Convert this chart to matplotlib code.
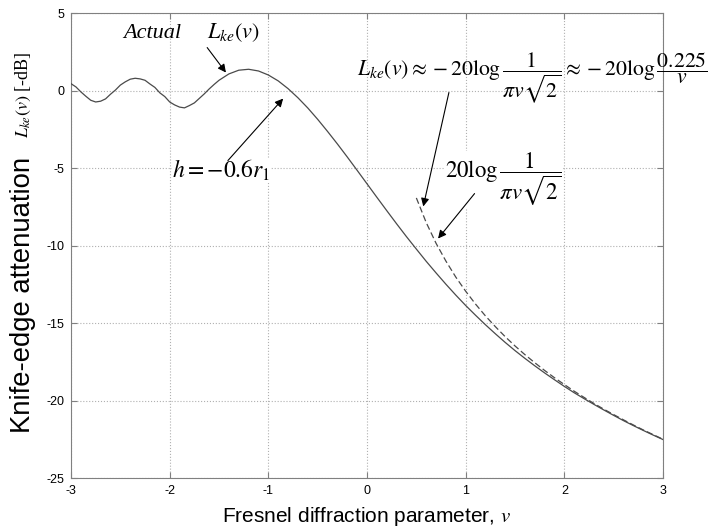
import matplotlib
matplotlib.use("Agg")
import matplotlib.pyplot as plt

plt.rcParams['mathtext.fontset'] = 'stix'
plt.rcParams['font.family'] = ['Liberation Sans', 'DejaVu Sans']
plt.rcParams['axes.unicode_minus'] = False

# Fresnel parameter v and knife-edge gain in dB
v_actual = [-3.00, -2.95, -2.90, -2.85, -2.80, -2.75, -2.70, -2.65, -2.60, -2.55,
            -2.50, -2.45, -2.40, -2.35, -2.30, -2.25, -2.20, -2.15, -2.10, -2.05,
            -2.00, -1.95, -1.90, -1.85, -1.80, -1.75, -1.70, -1.65, -1.60, -1.55,
            -1.50, -1.40, -1.30, -1.20, -1.10, -1.00, -0.90, -0.80, -0.70, -0.60,
            -0.50, -0.40, -0.30, -0.20, -0.10, 0.00, 0.10, 0.20, 0.30, 0.40,
            0.50, 0.60, 0.70, 0.80, 0.90, 1.00, 1.10, 1.20, 1.30, 1.40,
            1.50, 1.60, 1.70, 1.80, 1.90, 2.00, 2.10, 2.20, 2.30, 2.40,
            2.50, 2.60, 2.70, 2.80, 2.90, 3.00]
L_actual = [0.44, 0.23, -0.09, -0.37, -0.63, -0.74, -0.69, -0.54, -0.24, 0.03,
            0.35, 0.56, 0.73, 0.79, 0.75, 0.66, 0.42, 0.20, -0.15, -0.39,
            -0.74, -0.93, -1.07, -1.12, -0.97, -0.80, -0.51, -0.22, 0.10, 0.39,
            0.66, 1.07, 1.31, 1.37, 1.26, 1.00, 0.62, 0.12, -0.47, -1.13,
            -1.86, -2.64, -3.45, -4.29, -5.15, -6.02, -6.89, -7.75, -8.60, -9.43,
            -10.23, -11.02, -11.77, -12.50, -13.20, -13.87, -14.50, -15.11, -15.69, -16.25,
            -16.78, -17.28, -17.76, -18.22, -18.66, -19.09, -19.50, -19.88, -20.25, -20.61,
            -20.96, -21.30, -21.62, -21.93, -22.23, -22.52]

# approximation 20log(1/(pi v sqrt2))
v_approx = [0.5, 0.6, 0.7, 0.8, 0.9, 1.0, 1.1, 1.2, 1.3, 1.4, 1.5, 1.6, 1.7, 1.8,
            1.9, 2.0, 2.1, 2.2, 2.3, 2.4, 2.5, 2.6, 2.7, 2.8, 2.9, 3.0]
L_approx = [-6.93, -8.52, -9.86, -11.01, -12.04, -12.95, -13.78, -14.54, -15.23,
            -15.88, -16.48, -17.04, -17.56, -18.06, -18.53, -18.97, -19.40, -19.80,
            -20.19, -20.56, -20.91, -21.25, -21.58, -21.90, -22.20, -22.50]

xticks = [-3, -2, -1, 0, 1, 2, 3]
yticks = [-25, -20, -15, -10, -5, 0, 5]

fig = plt.figure(figsize=(7.11, 5.31), dpi=100)
ax = fig.add_axes([0.0999, 0.0998, 0.8326, 0.8757])

ax.plot(v_actual, L_actual, color='#4a4a4a', lw=0.9, zorder=3)
ax.plot(v_approx, L_approx, color='#4a4a4a', lw=0.9, dashes=(5, 2.5), zorder=3)

ax.set_xlim(-3, 3)
ax.set_ylim(-25, 5)
ax.set_xticks(xticks)
ax.set_yticks(yticks)
ax.grid(True, color='#b0b0b0', linestyle=':', lw=0.8)
ax.tick_params(direction='in', top=True, right=True, length=4, color='#808080',
               labelsize=9, pad=5)
for s in ax.spines.values():
    s.set_color('#808080')

ax.set_xlabel('Fresnel diffraction parameter, $v$', fontsize=15, labelpad=6)

serif = ['Liberation Serif', 'DejaVu Serif']
# y label: sans part + serif part
fig.text(23 / 711, 1 - 433 / 531, 'Knife-edge attenuation', rotation=90,
         fontsize=19.8, ha='center', va='bottom')
fig.text(23 / 711, 1 - 138 / 531, '$L_{ke}(v)$ [-dB]', rotation=90,
         fontsize=13, family=serif, ha='center', va='bottom')

ax.text(-2.47, 3.4, 'Actual', fontsize=16, style='italic', family=serif)
ax.text(-1.62, 3.4, '$L_{ke}(v)$', fontsize=16)

arrow = dict(arrowstyle='-|>', color='black', lw=0.8, mutation_scale=12,
             shrinkA=0, shrinkB=0)
ax.annotate('', xy=(-1.43, 1.16), xytext=(-1.62, 2.77), arrowprops=arrow)

ax.text(-1.98, -5.15, '$h = -0.6r_1$', fontsize=17, va='center',
        bbox=dict(facecolor='white', edgecolor='none', pad=0), zorder=4)
ax.annotate('', xy=(-0.85, -0.52), xytext=(-1.41, -4.52), arrowprops=arrow,
            zorder=5)

ax.text(-0.10, 0.85,
        r'$L_{ke}(v) \approx -20\log\dfrac{1}{\pi v\sqrt{2}} \approx -20\log\dfrac{0.225}{v}$',
        fontsize=15.7, va='center', clip_on=False)
ax.annotate('', xy=(0.57, -7.48), xytext=(0.83, -0.13), arrowprops=arrow)

ax.text(0.79, -5.75, r'$20\log\dfrac{1}{\pi v\sqrt{2}}$', fontsize=16.5, va='center',
        bbox=dict(facecolor='white', edgecolor='none', pad=0), zorder=4)
ax.annotate('', xy=(0.72, -9.55), xytext=(1.09, -6.65), arrowprops=arrow,
            zorder=5)

fig.savefig('out.png', dpi=100)
